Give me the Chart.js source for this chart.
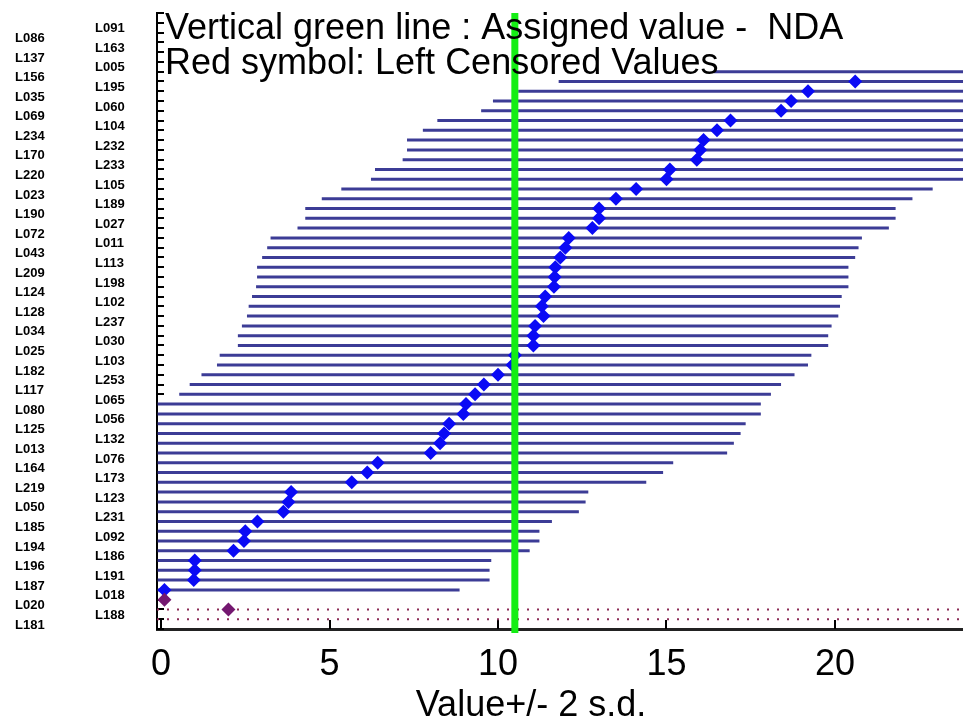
<!DOCTYPE html>
<html>
<head>
<meta charset="utf-8">
<title>Value +/- 2 s.d.</title>
<script src="https://cdn.jsdelivr.net/npm/chart.js@4.4.1/dist/chart.umd.min.js"></script>
<style>
  html, body { margin: 0; padding: 0; background: #fff; }
  #wrap { width: 963px; height: 723px; }
</style>
</head>
<body>
<div id="wrap"><canvas id="chart" width="963" height="723"></canvas></div>
<script>
// Laboratories, top row first (rows 1..62, sorted by value)
const rowLabels = [
  'L091', 'L086', 'L163', 'L137', 'L005', 'L156', 'L195', 'L035', 'L060', 'L069',
  'L104', 'L234', 'L232', 'L170', 'L233', 'L220', 'L105', 'L023', 'L189', 'L190',
  'L027', 'L072', 'L011', 'L043', 'L113', 'L209', 'L198', 'L124', 'L102', 'L128',
  'L237', 'L034', 'L030', 'L025', 'L103', 'L182', 'L253', 'L117', 'L065', 'L080',
  'L056', 'L125', 'L132', 'L013', 'L076', 'L164', 'L173', 'L219', 'L123', 'L050',
  'L231', 'L185', 'L092', 'L194', 'L186', 'L196', 'L191', 'L187', 'L018', 'L020',
  'L188', 'L181'
];

// reported value per row (null = nothing visible)
const values = [
  null, null, null, null, null, 25.3, 20.6, 19.2, 18.7, 18.4,
  16.9, 16.5, 16.1, 16.0, 15.9, 15.1, 15.0, 14.1, 13.5, 13.0,
  13.0, 12.8, 12.1, 12.0, 11.85, 11.7, 11.68, 11.66, 11.4, 11.3,
  11.35, 11.1, 11.05, 11.05, 10.5, 10.43, 10.0, 9.58, 9.32, 9.05,
  8.97, 8.55, 8.4, 8.28, 8.0, 6.43, 6.12, 5.66, 3.86, 3.78,
  3.63, 2.86, 2.5, 2.46, 2.15, 1.0, 1.0, 0.97, 0.1, null,
  null, null
];

// value - 2 s.d.
const lows = [
  null, null, null, null, null, 16.4, 11.8, 10.6, 9.85, 9.5,
  8.2, 7.77, 7.3, 7.3, 7.17, 6.35, 6.23, 5.35, 4.77, 4.28,
  4.28, 4.05, 3.25, 3.15, 3.0, 2.85, 2.85, 2.82, 2.7, 2.6,
  2.55, 2.4, 2.28, 2.28, 1.74, 1.66, 1.2, 0.85, 0.54, -0.1,
  -0.1, -0.1, -0.1, -0.1, -0.1, -0.1, -0.1, -0.1, -0.1, -0.1,
  -0.1, -0.1, -0.1, -0.1, -0.1, -0.1, -0.1, -0.1, -0.1, null,
  null, null
];

// value + 2 s.d.
const highs = [
  null, null, null, null, null, 34.2, 29.4, 27.8, 27.55, 27.3,
  25.6, 25.2, 24.9, 24.7, 24.6, 23.85, 23.8, 22.9, 22.3, 21.8,
  21.8, 21.6, 20.8, 20.7, 20.6, 20.4, 20.4, 20.4, 20.2, 20.15,
  20.1, 19.9, 19.8, 19.8, 19.3, 19.2, 18.8, 18.4, 18.1, 17.8,
  17.8, 17.35, 17.2, 17.0, 16.8, 15.2, 14.9, 14.4, 12.68, 12.6,
  12.4, 11.6, 11.23, 11.23, 10.94, 9.8, 9.75, 9.75, 8.86, null,
  null, null
];

// left censored values (red symbol) and the rows with a dotted line
const censoredRows = [60, 61];
const censoredValues = [0.1, 2.0];
const dottedRows = [61, 62];

const assignedValue = 10.5;
const xTicks = [0, 5, 10, 15, 20];
const xMin = -0.12;
const xMax = 23.8;

function buildIntervals() {
  let pts = [];
  rowLabels.forEach((lab, i) => {
    if (lows[i] === null) return;
    pts.push({ x: lows[i], y: i + 1 }, { x: highs[i], y: i + 1 }, { x: null, y: null });
  });
  return pts;
}

function buildPoints() {
  let pts = [];
  values.forEach((v, i) => {
    if (v !== null) pts.push({ x: v, y: i + 1 });
  });
  return pts;
}

function buildDotted() {
  let pts = [];
  dottedRows.forEach(r => {
    pts.push({ x: xMin, y: r }, { x: xMax, y: r }, { x: null, y: null });
  });
  return pts;
}

// ticks inside the frame, lab codes in two columns, texts on top
const overlay = {
  id: 'overlay',
  beforeDatasetsDraw(chart) {
    const ctx = chart.ctx, a = chart.chartArea;
    const xs = chart.scales.x, ys = chart.scales.y;
    ctx.save();
    ctx.strokeStyle = '#000';
    ctx.lineWidth = 2;
    ctx.beginPath();
    for (let r = 0; r <= rowLabels.length + 1; r++) {
      const y = Math.round(ys.getPixelForValue(r));
      ctx.moveTo(a.left, y);
      ctx.lineTo(a.left + 7, y);
    }
    xTicks.forEach(v => {
      const x = Math.round(xs.getPixelForValue(v));
      ctx.moveTo(x, a.bottom);
      ctx.lineTo(x, a.bottom - 9);
    });
    ctx.stroke();
    ctx.restore();
  },
  afterDraw(chart) {
    const ctx = chart.ctx;
    const ys = chart.scales.y;
    ctx.save();
    ctx.fillStyle = '#000';
    ctx.textBaseline = 'middle';
    ctx.textAlign = 'left';
    ctx.font = "bold 13px 'Liberation Sans', Arial, sans-serif";
    rowLabels.forEach((lab, i) => {
      const r = i + 1;
      const x = (r % 2 === 1) ? 95 : 15;
      ctx.fillText(lab, x, ys.getPixelForValue(r) + 6);
    });

    ctx.font = "36px 'Liberation Sans', Arial, sans-serif";
    ctx.fillText('Vertical green line : Assigned value -  NDA', 165, 29);
    ctx.fillText('Red symbol: Left Censored Values', 165, 64);

    ctx.textAlign = 'center';
    ctx.fillText('Value+/- 2 s.d.', 531, 706);
    ctx.restore();
  }
};

new Chart(document.getElementById('chart'), {
  type: 'scatter',
  data: {
    datasets: [
      {
        label: 'Assigned value',
        data: [{ x: assignedValue, y: 0 }, { x: assignedValue, y: 63.4 }],
        showLine: true,
        borderColor: '#14ee14',
        borderWidth: 7,
        pointRadius: 0,
        clip: false,
        order: 0
      },
      {
        label: 'Left censored',
        data: censoredRows.map((r, i) => ({ x: censoredValues[i], y: r })),
        pointStyle: 'rectRot',
        pointRadius: 7,
        backgroundColor: '#741870',
        borderWidth: 0,
        order: 1
      },
      {
        label: 'Value',
        data: buildPoints(),
        pointStyle: 'rectRot',
        pointRadius: 7,
        backgroundColor: '#0a0af5',
        borderWidth: 0,
        order: 2
      },
      {
        label: 'Censored line',
        data: buildDotted(),
        showLine: true,
        spanGaps: false,
        borderColor: '#8a2a55',
        borderWidth: 2,
        borderDash: [2, 8],
        pointRadius: 0,
        order: 3
      },
      {
        label: '+/- 2 s.d.',
        data: buildIntervals(),
        showLine: true,
        spanGaps: false,
        borderColor: '#3c3c96',
        borderWidth: 3,
        pointRadius: 0,
        order: 4
      }
    ]
  },
  options: {
    responsive: false,
    animation: false,
    layout: { autoPadding: false, padding: { top: 13, left: 0, right: 0, bottom: 0 } },
    plugins: {
      legend: { display: false },
      tooltip: { enabled: false }
    },
    scales: {
      x: {
        type: 'linear',
        min: xMin,
        max: xMax,
        afterBuildTicks: (scale) => { scale.ticks = xTicks.map(v => ({ value: v })); },
        afterFit: (scale) => { scale.height = 94; },
        ticks: {
          color: '#000',
          padding: 14,
          font: { family: "'Liberation Sans', Arial, sans-serif", size: 36 }
        },
        grid: { drawOnChartArea: false, drawTicks: false },
        border: { display: true, color: '#222', width: 3 }
      },
      y: {
        type: 'linear',
        min: 0,
        max: 63,
        reverse: true,
        afterFit: (scale) => { scale.width = 157; },
        ticks: { display: false },
        grid: { drawOnChartArea: false, drawTicks: false },
        border: { display: true, color: '#000', width: 2 }
      }
    }
  },
  plugins: [overlay]
});
</script>
</body>
</html>
